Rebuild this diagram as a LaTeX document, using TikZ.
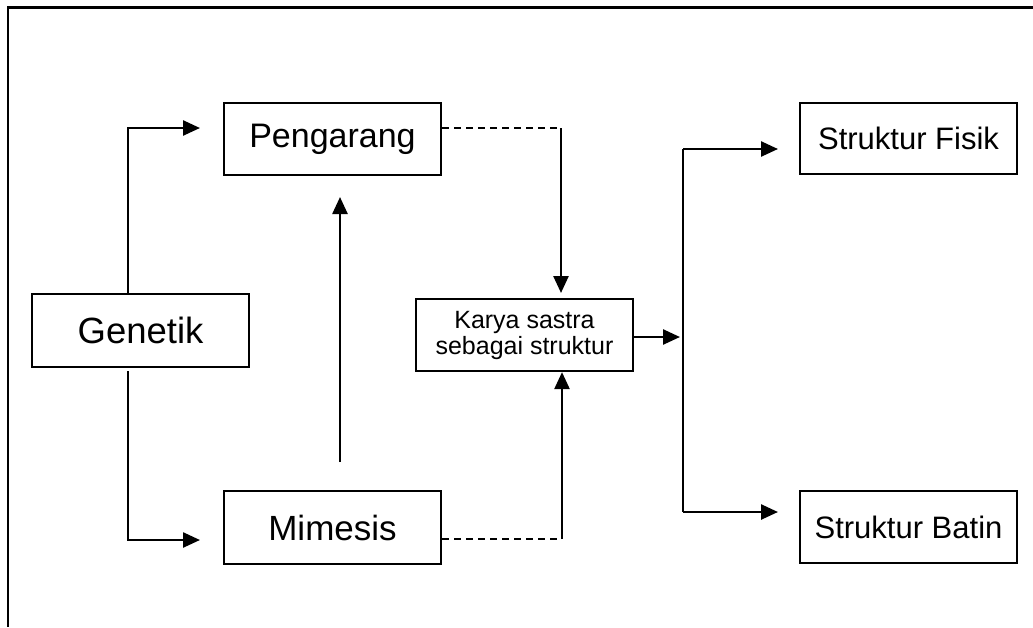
\documentclass[tikz,border=0pt]{standalone}
\usepackage{fontspec}
\setmainfont{Liberation Sans}
\usetikzlibrary{arrows.meta}
\begin{document}
\begin{tikzpicture}[x=1pt,y=-1pt,
  box/.style={draw,line width=2.2pt,minimum width=217pt,inner sep=0pt,align=center},
  arr/.style={line width=2.5pt,-{Triangle[length=17pt,width=15pt]}},
  ln/.style={line width=2.5pt},
  dsh/.style={line width=1.8pt,dash pattern=on 7pt off 5pt}]
\useasboundingbox (0,0) rectangle (1033,627);
% frame (top and left edges)
\draw[line width=3pt] (7,7) -- (1033,7);
\draw[line width=2.4pt] (8,7) -- (8,627);
% nodes
\node[box,minimum height=73pt,font=\fontsize{36.5}{40}\selectfont] (gen) at (140.5,330.5) {Genetik};
\node[box,minimum height=72pt,font=\fontsize{34}{38}\selectfont] (pen) at (332.5,139) {Pengarang};
\node[box,minimum height=73pt,font=\fontsize{35}{38}\selectfont] (mim) at (332.5,527.5) {Mimesis};
\node[box,minimum height=72pt,font=\fontsize{25}{26}\selectfont] (kar) at (524.5,335) {Karya sastra\\sebagai struktur};
\node[box,minimum height=71pt,font=\fontsize{31}{34}\selectfont] (fis) at (908.5,138.5) {Struktur Fisik};
\node[box,minimum height=72pt,font=\fontsize{31}{34}\selectfont] (bat) at (908.5,527) {Struktur Batin};
% coordinates
\coordinate (g1) at (128,128);
\coordinate (g1e) at (200,128);
\coordinate (g2) at (128,540);
\coordinate (g2e) at (200,540);
\coordinate (p1) at (441,128);
\coordinate (p2) at (561,128);
\coordinate (p3) at (561,293);
\coordinate (m1) at (441,539);
\coordinate (m2) at (562,539);
\coordinate (ms) at (340,462);
\coordinate (me) at (340,197);
\coordinate (ke) at (680,337);
\coordinate (v1) at (683,149);
\coordinate (v2) at (683,512);
\coordinate (fe) at (778,149);
\coordinate (be) at (778,512);
% connectors
\draw[arr] (gen.north -| g1) |- (g1e);
\draw[arr,shorten <=3pt] (gen.south -| g2) |- (g2e);
\draw[arr] (ms) -- (me);
\draw[dsh] (pen.east |- p1) -- (p2);
\draw[arr] (p2) -- (p3);
\draw[dsh] (mim.east |- m1) -- (m2);
\draw[arr] (m2) -- (kar.south -| m2);
\draw[arr] (kar.east |- ke) -- (ke);
\draw[ln] (v1) -- (v2);
\draw[arr] (v1) -- (fe);
\draw[arr] (v2) -- (be);
\end{tikzpicture}
\end{document}
